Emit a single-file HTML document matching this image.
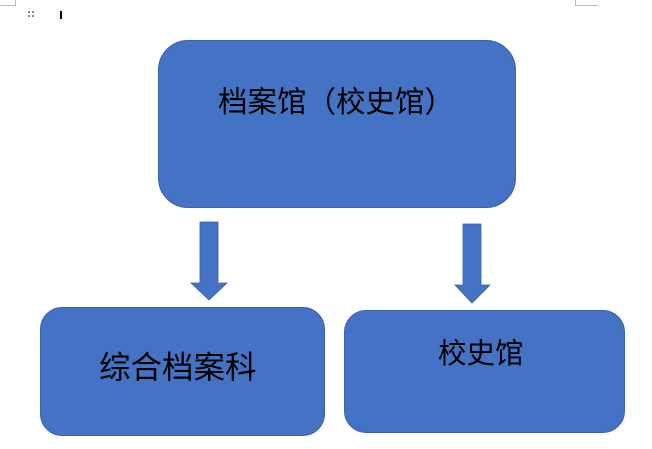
<!DOCTYPE html>
<html><head><meta charset="utf-8"><style>
body{margin:0;width:652px;height:449px;background:#fff;position:relative;overflow:hidden;font-family:"Liberation Sans","Noto Sans CJK SC",sans-serif}
.b{position:absolute;background:#4472C4;border:1px solid #3a62a8;box-sizing:border-box}
.t{position:absolute;color:#000;white-space:nowrap;line-height:1}
</style></head><body>
<svg width="652" height="449" style="position:absolute;left:0;top:0">
<path d="M0 5.5H15.5V0" stroke="#bbb" fill="none"/>
<path d="M575.5 0V5.5H598" stroke="#bbb" fill="none"/>
<g fill="#888"><rect x="28" y="11" width="2" height="2"/><rect x="32" y="11" width="2" height="2"/><rect x="28" y="15" width="2" height="2"/><rect x="32" y="15" width="2" height="2"/></g>
<rect x="60" y="11" width="2" height="8" fill="#000"/>
<polygon points="200,222 218,222 218,283 227,283 209,300 191,283 200,283" fill="#4472C4" stroke="#3a62a8" stroke-width="0.8"/>
<polygon points="463,224 481,224 481,285 490,285 472,303 455,285 463,285" fill="#4472C4" stroke="#3a62a8" stroke-width="0.8"/>
</svg>
<div class="b" style="left:158px;top:40px;width:358px;height:168px;border-radius:30px"></div>
<div class="b" style="left:40px;top:307px;width:285px;height:129px;border-radius:22px"></div>
<div class="b" style="left:344px;top:310px;width:281px;height:123px;border-radius:22px"></div>
<div class="t" style="left:218px;top:88px;font-size:29.5px">档案馆（校史馆）</div>
<div class="t" style="left:99px;top:352px;font-size:31.5px">综合档案科</div>
<div class="t" style="left:438px;top:340px;font-size:28.5px">校史馆</div>
</body></html>
